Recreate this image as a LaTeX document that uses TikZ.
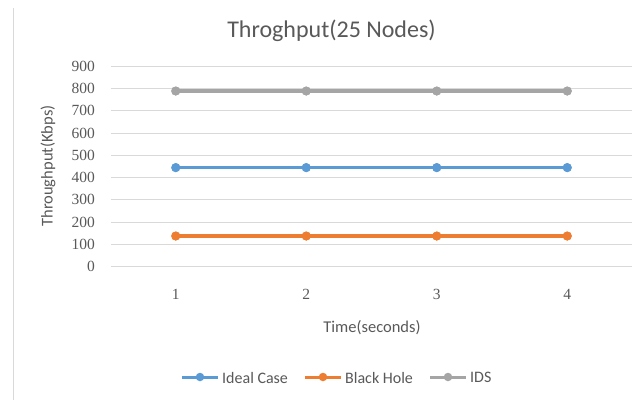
\documentclass[tikz,border=0pt]{standalone}
\usepackage{fontspec}
\setmainfont{Carlito}
\newfontfamily\tickfont{Liberation Serif}
\definecolor{txt}{HTML}{595959}
\definecolor{gridc}{HTML}{D9D9D9}
\definecolor{cblue}{HTML}{5B9BD5}
\definecolor{corange}{HTML}{ED7D31}
\definecolor{cgrey}{HTML}{A5A5A5}
\begin{document}
\begin{tikzpicture}[x=1pt,y=-1pt,
  gridline/.style={draw=gridc,line width=0.9pt},
  ytick/.style={anchor=east,text=txt,font=\tickfont\fontsize{15.5}{15.5}\selectfont,inner sep=0pt},
  xtick/.style={anchor=center,text=txt,font=\tickfont\fontsize{15.5}{15.5}\selectfont,inner sep=0pt},
  axtitle/.style={text=txt,font=\fontsize{16.5}{16.5}\selectfont,inner sep=0pt},
  legtext/.style={anchor=west,text=txt,font=\fontsize{16}{16}\selectfont,inner sep=0pt},
  dot/.style={circle,inner sep=0pt,minimum size=9pt},
  series/.style={line width=3.6pt},
]
\useasboundingbox (0,0) rectangle (639,400);
\fill[white] (0,0) rectangle (639,400);
% left frame line
\draw[draw=gridc,line width=1.6pt] (13.5,8) coordinate (fa) -- (13.5,400) coordinate (fb);
% gridlines and y ticks
\foreach \v in {0,100,...,900} {
  \pgfmathsetmacro{\yy}{266.7-0.2227*\v}
  \draw[gridline] (110.5,\yy) -- (632,\yy);
  \node[ytick] (yt\v) at (95,\yy) {\v};
}
% x ticks
\foreach \i/\xx in {1/175.75,2/306.25,3/436.75,4/567.25} {
  \node[xtick] (xt\i) at (\xx,294) {\i};
}
% title and axis titles
\node[text=txt,font=\fontsize{24}{24}\selectfont,inner sep=0pt] (title) at (331.5,31) {Throghput(25 Nodes)};
\node[axtitle] (xlab) at (372,328) {Time(seconds)};
\node[axtitle,rotate=90] (ylab) at (48,166) {Throughput(Kbps)};
% data series
\foreach \name/\col/\yy in {ideal/cblue/167.6, bh/corange/236, ids/cgrey/91} {
  \foreach \i/\xx in {1/175.75,2/306.25,3/436.75,4/567.25} {
    \node[dot,fill=\col] (\name\i) at (\xx,\yy) {};
  }
  \draw[series,draw=\col] (\name1.center) -- (\name2.center) -- (\name3.center) -- (\name4.center);
  \foreach \i in {1,2,3,4} { \fill[\col] (\name\i) circle (4.5pt); }
}
% legend
\foreach \name/\col/\xa/\txt in {lideal/cblue/182/Ideal Case, lbh/corange/305/Black Hole, lids/cgrey/430/IDS} {
  \coordinate (\name a) at (\xa,377);
  \coordinate (\name b) at ({\xa+36},377);
  \draw[line width=3pt,draw=\col] (\name a) -- (\name b);
  \node[dot,fill=\col,minimum size=8.5pt] (\name m) at ({\xa+18},377) {};
  \node[legtext] (\name t) at ({\xa+40},377.5) {\txt};
}
\end{tikzpicture}
\end{document}
